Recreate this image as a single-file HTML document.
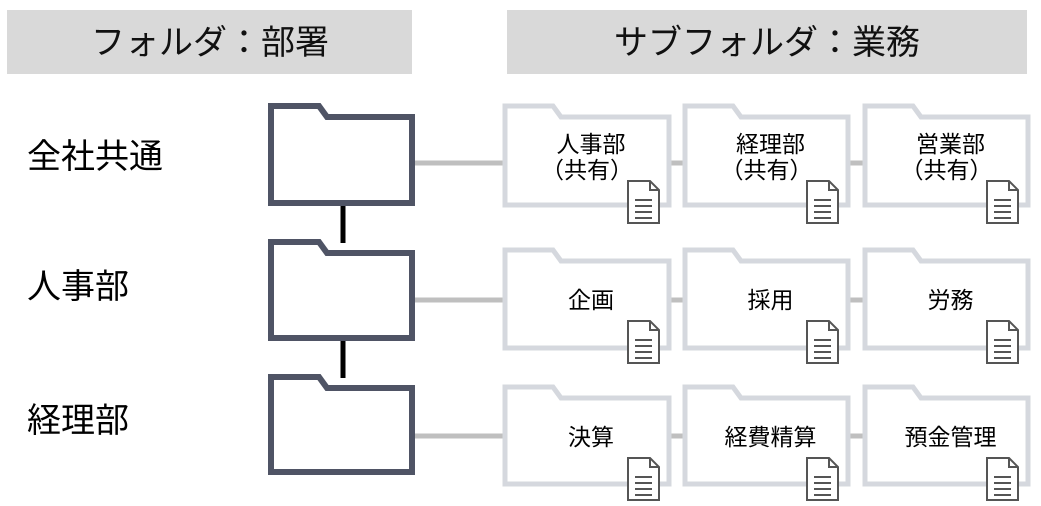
<!DOCTYPE html>
<html><head><meta charset="utf-8"><style>
body{margin:0;background:#fff;width:1041px;height:506px;overflow:hidden}
svg{display:block;font-family:"Liberation Sans","Noto Sans CJK JP",sans-serif}
</style></head><body>
<svg id="s" width="1041" height="506" viewBox="0 0 1041 506">
<rect x="7" y="10" width="405" height="64" fill="#d9d9d9"/>
<rect x="507" y="10" width="520" height="64" fill="#d9d9d9"/>
<text x="210" y="54" font-size="34" text-anchor="middle" fill="#111">フォルダ：部署</text>
<text x="767" y="54" font-size="34" text-anchor="middle" fill="#111">サブフォルダ：業務</text>
<text x="27" y="168" font-size="34" fill="#000">全社共通</text>
<text x="27" y="298" font-size="34" fill="#000">人事部</text>
<text x="27" y="432" font-size="34" fill="#000">経理部</text>
<g stroke="#000" stroke-width="5"><line x1="343" y1="203" x2="343" y2="243"/><line x1="343" y1="338" x2="343" y2="378"/></g>
<g stroke="#bfbfbf" stroke-width="5"><line x1="413" y1="163" x2="1027" y2="163"/><line x1="413" y1="300" x2="1027" y2="300"/><line x1="413" y1="436" x2="1027" y2="436"/></g>
<g id="g"></g>
</svg>
<script>
var g=document.getElementById('g'),h='';
function folder(x1,y1,x2,y2,c,w){var t=y1+11;
return '<path d="M'+x1+' '+y1+' L'+(x1+48)+' '+y1+' L'+(x1+56)+' '+t+' L'+x2+' '+t+' L'+x2+' '+y2+' L'+x1+' '+y2+' Z" fill="#fff" stroke="'+c+'" stroke-width="'+w+'"/>';}
function doc(x,y){return '<path d="M'+x+' '+y+' h22 l9 9 v33 h-31 z" fill="#fff" stroke="#555" stroke-width="2"/><path d="M'+(x+22)+' '+y+' v9 h9" fill="none" stroke="#555" stroke-width="2"/><g stroke="#555" stroke-width="2">'+[19,25,31,37].map(function(d){return '<line x1="'+(x+7)+'" y1="'+(y+d)+'" x2="'+(x+24)+'" y2="'+(y+d)+'"/>'}).join('')+'</g>';}
[[106,203],[242,338],[377,472]].forEach(function(r){h+=folder(271,r[0],412,r[1],'#4f5465',6);});
var rows=[[106,205,181,[['人事部','（共有）'],['経理部','（共有）'],['営業部','（共有）']]],[250,348,321,[['企画'],['採用'],['労務']]],[387,484,458,[['決算'],['経費精算'],['預金管理']]]];
var xs=[[505,669],[685,848],[865,1028]];
rows.forEach(function(r){for(var i=0;i<3;i++){var x1=xs[i][0],x2=xs[i][1];
h+=folder(x1,r[0],x2,r[1],'#d5d8de',5);
var cx=(x1+x2)/2+4,lab=r[3][i];
if(lab.length==2){h+='<text x="'+cx+'" y="'+(r[0]+46)+'" font-size="23" text-anchor="middle" fill="#000">'+lab[0]+'</text><text x="'+(cx-4)+'" y="'+(r[0]+72)+'" font-size="23" text-anchor="middle" fill="#000">'+lab[1]+'</text>';}
else h+='<text x="'+cx+'" y="'+(r[0]+58)+'" font-size="23" text-anchor="middle" fill="#000">'+lab[0]+'</text>';
h+=doc(x2-41,r[2]);}});
g.innerHTML=h;
</script>
</body></html>
